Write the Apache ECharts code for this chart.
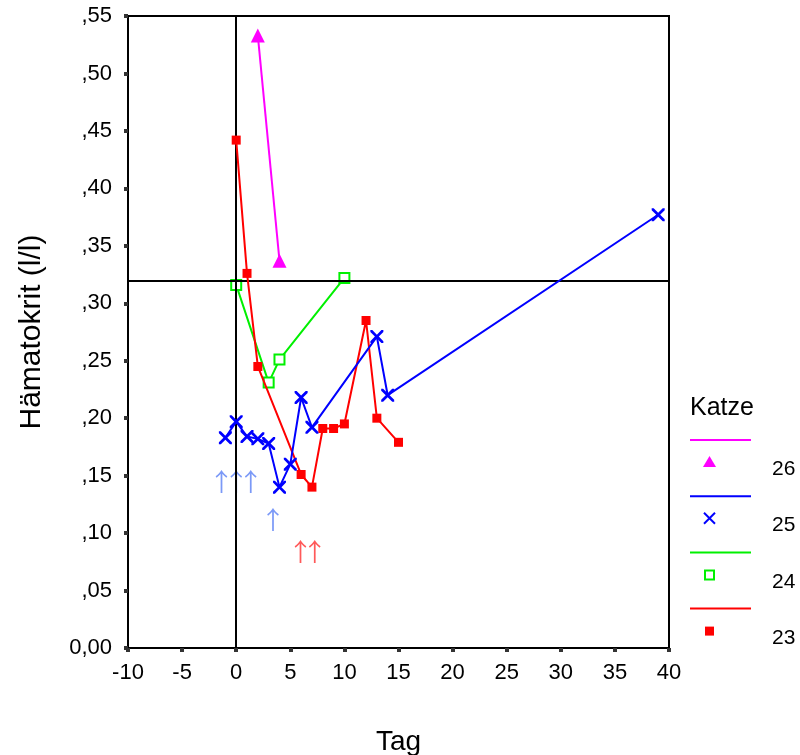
<!DOCTYPE html>
<html><head><meta charset="utf-8">
<script src="https://cdn.jsdelivr.net/npm/echarts@6/dist/echarts.min.js"></script>
<style>html,body{margin:0;padding:0;background:#fff}#c{width:800px;height:755px}</style>
</head><body><div id="c"></div>
<script>
// ---- data ----
const xTicks = [-10, 40, 5];           // min, max, interval
const yTicks = [0, 0.55, 0.05];
const refX = 0, refY = 0.32;
const cat26 = [[2, 0.533], [4, 0.337]];
const cat25 = [[-1, 0.183], [0, 0.197], [1, 0.184], [2, 0.182], [3, 0.178], [4, 0.140], [5, 0.160], [6, 0.218], [7, 0.192], [13, 0.271], [14, 0.220], [39, 0.377]];
const cat24 = [[0, 0.316], [3, 0.231], [4, 0.251], [10, 0.322]];
const cat23 = [[0, 0.442], [1, 0.326], [2, 0.245], [6, 0.151], [7, 0.140], [8, 0.191], [9, 0.191], [10, 0.195], [12, 0.285], [13, 0.200], [15, 0.179]];
const blueArrows = [[-1.35, 0.145], [0, 0.145], [1.35, 0.145], [3.4, 0.112]];
const redArrows = [[5.95, 0.084], [7.25, 0.084]];
const legendNames = ['26', '25', '24', '23'];
const xTitle = 'Tag', yTitle = 'Hämatokrit (l/l)', legendTitle = 'Katze';

const FONT = 'Liberation Sans, Arial, sans-serif';
const xPath = 'path://M0,0 L3,0 L10,7 L17,0 L20,0 L20,3 L13,10 L20,17 L20,20 L17,20 L10,13 L3,20 L0,20 L0,17 L7,10 L0,3 Z';

const chart = echarts.init(document.getElementById('c'), null, {renderer: 'canvas'});

function yFmt(v) {
  const n = Math.round(v * 100);
  if (n === 0) return '0,00';
  return ',' + (n < 10 ? '0' + n : '' + n);
}

function arrowSeries(data, color) {
  return {
    type: 'scatter', data: data, symbolSize: 2, silent: true,
    itemStyle: {color: 'rgba(0,0,0,0)'}, z: 1,
    label: {show: true, position: 'inside', formatter: '↑', color: color,
      fontSize: 25, fontFamily: 'Noto Sans CJK SC'}
  };
}

const option = {
  animation: false,
  backgroundColor: '#fff',
  grid: {left: 128, top: 16, width: 541, height: 632, show: true, borderColor: '#000', borderWidth: 2,
    backgroundColor: 'transparent', containLabel: false, outerBoundsMode: 'none'},
  xAxis: {
    type: 'value', min: xTicks[0], max: xTicks[1], interval: xTicks[2],
    name: xTitle, nameLocation: 'middle', nameGap: 80,
    nameTextStyle: {fontSize: 28, color: '#000', fontFamily: FONT},
    axisLine: {show: true, onZero: false, lineStyle: {color: '#000', width: 2}},
    axisTick: {show: true, length: 4, inside: false, lineStyle: {color: '#333', width: 4}},
    axisLabel: {fontSize: 22, color: '#000', fontFamily: FONT, margin: 14},
    splitLine: {show: false}
  },
  yAxis: {
    type: 'value', min: yTicks[0], max: yTicks[1], interval: yTicks[2],
    name: yTitle, nameLocation: 'middle', nameGap: 81, nameRotate: 90,
    nameTextStyle: {fontSize: 30, color: '#000', fontFamily: FONT},
    axisLine: {show: true, onZero: false, lineStyle: {color: '#000', width: 2}},
    axisTick: {show: true, length: 4, inside: false, lineStyle: {color: '#333', width: 4}},
    axisLabel: {fontSize: 22, color: '#000', fontFamily: FONT, margin: 16, formatter: yFmt},
    splitLine: {show: false}
  },
  series: [
    {
      name: '23', type: 'line', data: cat23, symbol: 'rect', symbolSize: 9, z: 5,
      lineStyle: {color: '#ff0000', width: 2}, itemStyle: {color: '#ff0000'},
      markLine: {
        silent: true, symbol: 'none', label: {show: false},
        lineStyle: {color: '#000', width: 2, type: 'solid'},
        data: [{xAxis: refX}, {yAxis: refY}]
      }
    },
    {
      name: '24', type: 'line', data: cat24, symbol: 'emptyRect', symbolSize: 10, z: 4,
      lineStyle: {color: '#00f000', width: 2}, itemStyle: {color: '#00f000', borderWidth: 2}
    },
    {
      name: '25', type: 'line', data: cat25, symbol: xPath, symbolSize: 13, z: 6,
      lineStyle: {color: '#0000ff', width: 2}, itemStyle: {color: '#0000ff'}
    },
    {
      name: '26', type: 'line', data: cat26, symbol: 'triangle', symbolSize: 14, z: 3,
      lineStyle: {color: '#ff00ff', width: 2}, itemStyle: {color: '#ff00ff'}
    },
    arrowSeries(blueArrows, '#5a80f5'),
    arrowSeries(redArrows, '#ff3030')
  ]
};
chart.setOption(option);

// ---- custom legend (line above symbol, label to the right) ----
const legendColors = ['#ff00ff', '#0000ff', '#00f000', '#ff0000'];
const g = [];
g.push({type: 'text', left: 690, top: 396, style: {text: legendTitle, font: '25px ' + FONT, fill: '#000'}});
legendNames.forEach(function (nm, i) {
  const y0 = 440 + i * 56.2;
  const c = legendColors[i];
  g.push({type: 'line', shape: {x1: 690, y1: y0, x2: 751, y2: y0}, style: {stroke: c, lineWidth: 2}});
  const sy = y0 + 22;
  if (i === 0) g.push({type: 'polygon', shape: {points: [[709.5, sy - 6], [716, sy + 5], [703, sy + 5]]}, style: {fill: c}});
  if (i === 1) {
    g.push({type: 'line', shape: {x1: 704, y1: sy - 5.5, x2: 715, y2: sy + 5.5}, style: {stroke: c, lineWidth: 2}});
    g.push({type: 'line', shape: {x1: 715, y1: sy - 5.5, x2: 704, y2: sy + 5.5}, style: {stroke: c, lineWidth: 2}});
  }
  if (i === 2) g.push({type: 'rect', shape: {x: 705, y: sy - 4, width: 9, height: 9}, style: {fill: '#fff', stroke: c, lineWidth: 2}});
  if (i === 3) g.push({type: 'rect', shape: {x: 705, y: sy - 4, width: 9, height: 9}, style: {fill: c}});
  g.push({type: 'text', left: 772, top: y0 + 19, style: {text: nm, font: '21px ' + FONT, fill: '#000'}});
});
chart.setOption({graphic: g});
</script>
</body></html>
